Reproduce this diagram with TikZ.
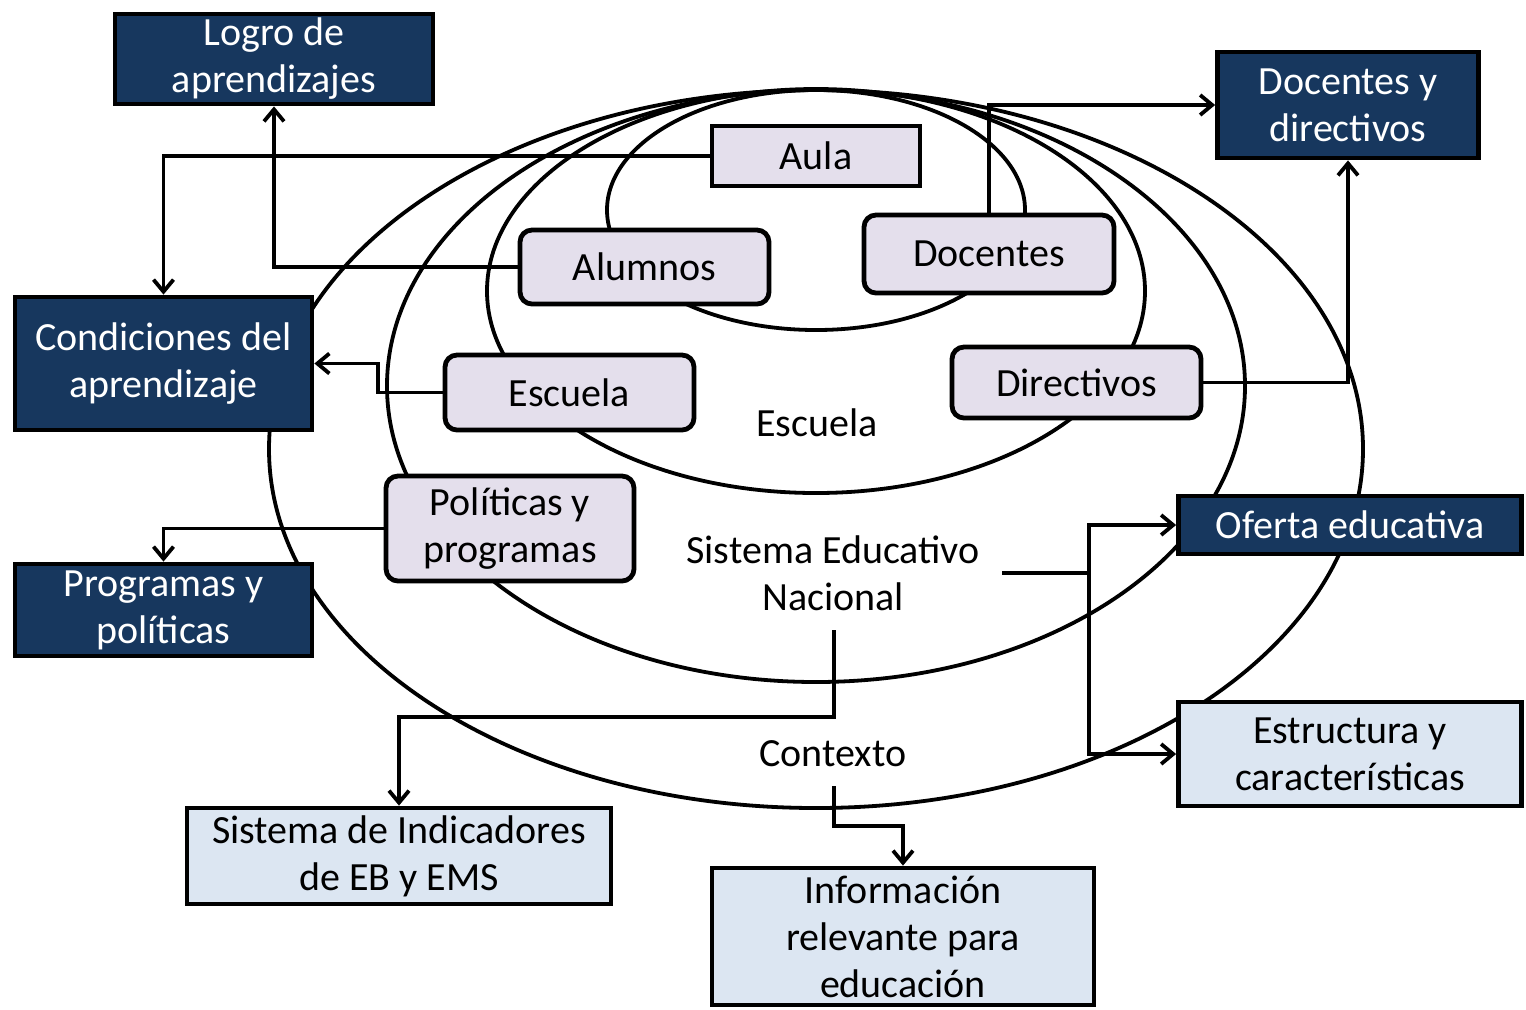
\documentclass[tikz,border=0pt]{standalone}
\usepackage{fontspec}
\setmainfont{Carlito}
\usetikzlibrary{arrows.meta}
\definecolor{navyblue}{HTML}{17375E}
\definecolor{paleblue}{HTML}{DCE6F2}
\definecolor{lilac}{HTML}{E4DFEC}
\begin{document}
\begin{tikzpicture}[x=0.5pt, y=-0.5pt, line width=1.9pt,
  >={Straight Barb[length=6pt, width=10pt]}]
  \tikzstyle{box} = [draw, line width=2.4pt, align=center, inner sep=0pt, font=\fontsize{20}{23.5}\selectfont]
  \tikzstyle{result} = [box, fill=navyblue, text=white]
  \tikzstyle{source} = [box, fill=paleblue]
  \tikzstyle{level} = [box, fill=lilac, rounded corners=6pt]
  \tikzstyle{tag} = [align=center, inner sep=0pt, font=\fontsize{20}{23.5}\selectfont]

  \useasboundingbox (0,0) rectangle (1526,1009);

  % Draw nested levels
  \foreach \cy/\rx/\ry in {210/209/120, 291/329/202, 386/429/296, 449/547/359}
    \draw (816,\cy) ellipse [x radius=\rx, y radius=\ry];

  % Level labels
  \node[tag] (escuela-lbl) at (817,423) {Escuela};
  \node[tag] (sen-lbl) at (833,573) {Sistema Educativo\\Nacional};
  \node[tag] (contexto-lbl) at (833,754) {Contexto};

  % Draw inner boxes
  \node[box, fill=lilac, minimum width=104pt, minimum height=30pt] (aula) at (816,156) {Aula};
  \node[level, minimum width=124.5pt, minimum height=37pt] (alumnos) at (644.5,267) {Alumnos};
  \node[level, minimum width=125pt, minimum height=39pt] (docentes) at (989,254) {Docentes};
  \node[level, minimum width=124.5pt, minimum height=37.5pt] (escuela) at (569.5,392.5) {Escuela};
  \node[level, minimum width=124.5pt, minimum height=35.5pt] (directivos) at (1076.5,382.5) {Directivos};
  \node[level, minimum width=124pt, minimum height=52.5pt] (politicas) at (510,528.5) {Políticas y\\programas};

  % Draw result boxes
  \node[result, minimum width=159pt, minimum height=45pt] (logro) at (274,59) {Logro de\\aprendizajes};
  \node[result, minimum width=130.5pt, minimum height=53pt] (docdir) at (1348,105) {Docentes y\\directivos};
  \node[result, minimum width=148.5pt, minimum height=66.5pt] (cond) at (163.5,363.5) {Condiciones del\\aprendizaje};
  \node[result, minimum width=148.5pt, minimum height=46pt] (prog) at (163.5,610) {Programas y\\políticas};
  \node[result, minimum width=171.5pt, minimum height=29pt] (oferta) at (1350,525) {Oferta educativa};

  % Draw source boxes
  \node[source, minimum width=171.5pt, minimum height=52pt] (estructura) at (1350,754) {Estructura y\\características};
  \node[source, minimum width=212pt, minimum height=48pt] (indicadores) at (399,856) {Sistema de Indicadores\\de EB y EMS};
  \node[source, minimum width=191pt, minimum height=68.5pt] (info) at (903,936.5) {Información\\relevante para\\educación};

  % Connections
  \draw[->] (aula.west) -| (cond.north);
  \draw[->] (alumnos.west) -| (logro.south);
  \draw[->] (docentes.north) |- (docdir.west);
  \draw[->] (directivos.east) -| (docdir.south);
  \draw[->] (escuela.west) -- ++(-65,0) |- (cond.east);
  \draw[->] (politicas.west) -| (prog.north);

  % Outgoing lines
  \coordinate (sen-out) at (1002,573);
  \coordinate (sen-branch) at (1089,573);
  \coordinate (sen-down) at (834,630);
  \coordinate (ctx-down) at (834,786);
  \draw (sen-out) -- (sen-branch);
  \draw[->] (sen-branch) |- (oferta.west);
  \draw[->] (sen-branch) |- (estructura.west);
  \draw[->] (sen-down) -- ++(0,87) -| (indicadores.north);
  \draw[->] (ctx-down) -- ++(0,40) -| (info.north);

\end{tikzpicture}
\end{document}
